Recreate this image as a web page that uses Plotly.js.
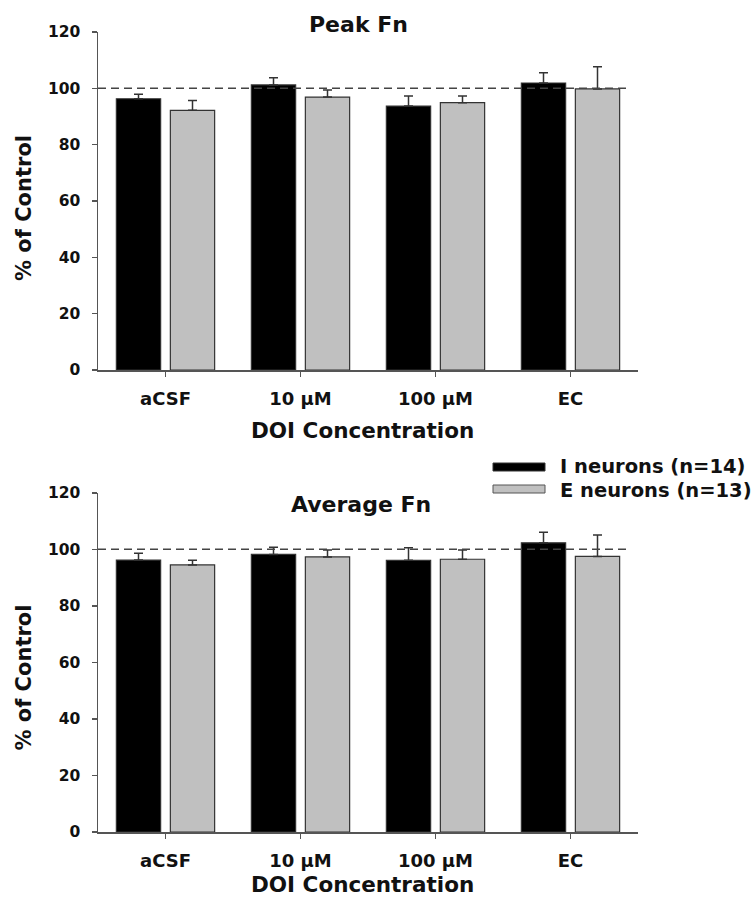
<!DOCTYPE html>
<html>
<head>
<meta charset="utf-8">
<script src="https://cdn.plot.ly/plotly-3.0.1.min.js"></script>
<style>html,body{margin:0;padding:0;background:#fff;}#chart{width:755px;height:902px;}</style>
</head>
<body>
<div id="chart"></div>
<script>
// ---- data ----
var categories = ['aCSF', '10 \u03bcM', '100 \u03bcM', 'EC'];
var seriesNames = ['I neurons (n=14)', 'E neurons (n=13)'];
var peakI = [96.3, 101.2, 93.7, 101.9];
var peakIErr = [1.6, 2.6, 3.6, 3.6];
var peakE = [92.2, 96.9, 94.9, 99.8];
var peakEErr = [3.5, 2.5, 2.4, 7.9];
var avgI = [96.2, 98.2, 96.1, 102.3];
var avgIErr = [2.4, 2.5, 4.5, 3.7];
var avgE = [94.5, 97.3, 96.5, 97.5];
var avgEErr = [1.6, 2.5, 3.3, 7.6];
var controlLevel = 100;
var yTicks = [0, 20, 40, 60, 80, 100, 120];

// ---- styling ----
var FONT = 'DejaVu Sans, Liberation Sans, Arial, sans-serif';
var colI = '#000000', colE = '#c0c0c0', edge = '#333333';

function barTrace(vals, errs, color, name, xa, ya) {
  return {
    type: 'bar', x: categories, y: vals, name: name, xaxis: xa, yaxis: ya,
    showlegend: false,
    marker: {color: color, line: {color: edge, width: 1.2}},
    error_y: {type: 'data', array: errs, arrayminus: errs.map(function(){return 0;}),
              symmetric: false, color: '#333', thickness: 1.5, width: 4.5}
  };
}

var data = [
  barTrace(peakI, peakIErr, colI, seriesNames[0], 'x', 'y'),
  barTrace(peakE, peakEErr, colE, seriesNames[1], 'x', 'y'),
  barTrace(avgI, avgIErr, colI, seriesNames[0], 'x2', 'y2'),
  barTrace(avgE, avgEErr, colE, seriesNames[1], 'x2', 'y2')
];

function xAxis(anchor) {
  return {
    anchor: anchor, domain: [0, 1], range: [-0.5, 3.5], type: 'category',
    showline: true, linecolor: '#555', linewidth: 1.5,
    ticks: 'outside', ticklen: 5, tickwidth: 1.5, tickcolor: '#555',
    tickfont: {family: FONT, size: 18, color: '#111', weight: 'bold'},
    ticklabelstandoff: 7, showgrid: false, zeroline: false, fixedrange: true
  };
}
function yAxis(domain, anchor) {
  return {
    anchor: anchor, domain: domain, range: [0, 120], tickvals: yTicks,
    showline: true, linecolor: '#555', linewidth: 1.5,
    ticks: 'outside', ticklen: 5, tickwidth: 1.5, tickcolor: '#555',
    tickfont: {family: FONT, size: 15.5, color: '#111', weight: 'bold'},
    ticklabelstandoff: 8, showgrid: false, zeroline: false, fixedrange: true
  };
}

function ann(text, x, y, size, extra) {
  var a = {text: text, x: x, y: y, xref: 'paper', yref: 'paper', showarrow: false,
           xanchor: 'center', yanchor: 'middle',
           font: {family: FONT, size: size, color: '#111', weight: 'bold'}};
  for (var k in extra) a[k] = extra[k];
  return a;
}

var layout = {
  width: 755, height: 902,
  margin: {l: 98, r: 117, t: 32, b: 70},
  paper_bgcolor: '#fff', plot_bgcolor: '#fff',
  barmode: 'group', bargap: 0.2, bargroupgap: 0.18,
  showlegend: false,
  xaxis: xAxis('y'),
  yaxis: yAxis([0.5775, 1], 'x'),
  xaxis2: xAxis('y2'),
  yaxis2: yAxis([0, 0.424], 'x2'),
  shapes: [
    {type: 'line', xref: 'x domain', yref: 'y', x0: 0, x1: 0.985, y0: controlLevel, y1: controlLevel,
     line: {color: '#444', width: 1.5, dash: '8px,5px'}, layer: 'above'},
    {type: 'line', xref: 'x2 domain', yref: 'y2', x0: 0, x1: 0.985, y0: controlLevel, y1: controlLevel,
     line: {color: '#444', width: 1.5, dash: '8px,5px'}, layer: 'above'},
    // legend swatches
    {type: 'rect', xref: 'paper', yref: 'paper', x0: 0.7315, x1: 0.8278, y0: 0.45125, y1: 0.46125,
     fillcolor: colI, line: {color: edge, width: 1}},
    {type: 'rect', xref: 'paper', yref: 'paper', x0: 0.7315, x1: 0.8278, y0: 0.42375, y1: 0.43375,
     fillcolor: colE, line: {color: '#555', width: 1}}
  ],
  annotations: [
    ann('Peak Fn', 0.483, 1.00875, 22),
    ann('Average Fn', 0.487, 0.41, 22),
    ann('DOI Concentration', 0.49, 0.5025, 21.5),
    ann('DOI Concentration', 0.49, -0.06625, 21.5),
    ann('% of Control', -0.137, 0.78, 21, {textangle: -90}),
    ann('% of Control', -0.137, 0.193, 21, {textangle: -90}),
    ann(seriesNames[0], 0.852, 0.45625, 19.5, {xanchor: 'left'}),
    ann(seriesNames[1], 0.852, 0.4275, 19.5, {xanchor: 'left'})
  ]
};

Plotly.newPlot('chart', data, layout, {staticPlot: true, displayModeBar: false});
</script>
</body>
</html>
